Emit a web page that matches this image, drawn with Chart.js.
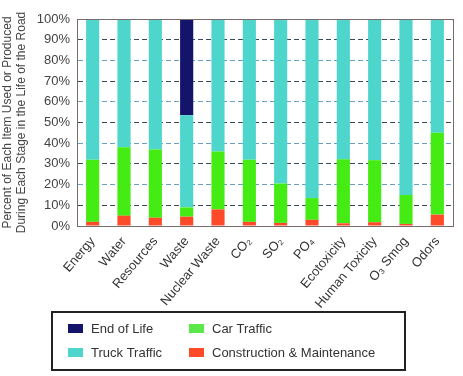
<!DOCTYPE html>
<html>
<head>
<meta charset="utf-8">
<script src="https://cdn.jsdelivr.net/npm/chart.js@4/dist/chart.umd.min.js"></script>
<style>
  body { margin: 0; background: #fff; }
  canvas { display: block; }
</style>
</head>
<body>
<canvas id="roadChart" width="463" height="376"></canvas>
<script>
const categories = ['Energy', 'Water', 'Resources', 'Waste', 'Nuclear Waste', 'CO₂', 'SO₂', 'PO₄', 'Ecotoxicity', 'Human Toxicity', 'O₃ Smog', 'Odors'];
const construction = [2, 5, 4, 4.5, 8, 2, 1.5, 3, 1.3, 1.8, 1, 5.5];
const carTraffic = [30, 33, 33, 4.5, 28, 30, 19, 10.5, 31, 30, 14, 39.5];
const truckTraffic = [68, 62, 63, 44.5, 64, 68, 79.5, 86.5, 67.7, 68.2, 85, 55];
const endOfLife = [0, 0, 0, 46.5, 0, 0, 0, 0, 0, 0, 0, 0];
const yTicks = [0, 10, 20, 30, 40, 50, 60, 70, 80, 90, 100];

const fontFam = '"Liberation Sans", Arial, sans-serif';
const textClr = '#444';

// legend in two columns inside a framed box
const legendItems = [
    { text: 'End of Life', color: '#14146b', col: 0, row: 0 },
    { text: 'Car Traffic', color: '#5be84a', col: 1, row: 0 },
    { text: 'Truck Traffic', color: '#4fd6cc', col: 0, row: 1 },
    { text: 'Construction & Maintenance', color: '#ff4a2a', col: 1, row: 1 }
];

const framePlugin = {
    id: 'frame',
    afterDraw(chart) {
        const ctx = chart.ctx;
        const a = chart.chartArea;
        ctx.save();
        ctx.strokeStyle = '#7a6a6a';
        ctx.lineWidth = 1;
        ctx.strokeRect(a.left + 0.5, a.top + 0.5, a.right - a.left, a.bottom - a.top);

        // legend box
        ctx.strokeStyle = '#222';
        ctx.lineWidth = 2;
        ctx.strokeRect(52, 312, 353, 58);
        ctx.font = '13px ' + fontFam;
        ctx.textBaseline = 'middle';
        legendItems.forEach(function (it) {
            const x = it.col === 0 ? 68 : 189;
            const y = it.row === 0 ? 328 : 352;
            ctx.fillStyle = it.color;
            ctx.fillRect(x, y - 4, 15, 9);
            ctx.fillStyle = '#333';
            ctx.fillText(it.text, x + 23, y + 1);
        });
        ctx.restore();
    }
};

const chartData = {
    labels: categories,
    datasets: [
        { label: 'Construction & Maintenance', data: construction, backgroundColor: '#ff4a2a' },
        { label: 'Car Traffic', data: carTraffic, backgroundColor: '#45ec14' },
        { label: 'Truck Traffic', data: truckTraffic, backgroundColor: '#4fd6cc' },
        { label: 'End of Life', data: endOfLife, backgroundColor: '#14146b' }
    ]
};

new Chart(document.getElementById('roadChart'), {
    type: 'bar',
    data: chartData,
    plugins: [framePlugin],
    options: {
        responsive: false,
        animation: false,
        layout: { padding: { top: 19, right: 10, left: 0, bottom: 0 } },
        datasets: {
            bar: { categoryPercentage: 1, barPercentage: 0.42 }
        },
        scales: {
            x: {
                stacked: true,
                grid: { display: false },
                border: { display: false },
                ticks: {
                    color: '#333',
                    font: { family: fontFam, size: 13 },
                    minRotation: 50,
                    maxRotation: 50,
                    padding: 0
                },
                afterFit(scale) { scale.height = 150; }
            },
            y: {
                stacked: true,
                min: 0,
                max: 100,
                afterBuildTicks(scale) { scale.ticks = yTicks.map(v => ({ value: v })); },
                grid: {
                    color: function (c) { return c.index % 2 ? '#3a4a5a' : '#6aa0c0'; },
                    drawTicks: false
                },
                border: { display: true, color: '#7a6a6a', dash: [5, 3] },
                ticks: {
                    color: textClr,
                    padding: 7,
                    font: { family: fontFam, size: 13 },
                    callback: v => v + '%'
                },
                title: {
                    display: true,
                    text: ['Percent of Each Item Used or Produced', 'During Each Stage in the Life of the Road'],
                    color: textClr,
                    font: { family: fontFam, size: 12 },
                    padding: 0
                },
                afterFit(scale) { scale.width = 77; }
            }
        },
        plugins: {
            legend: { display: false },
            tooltip: { enabled: false }
        }
    }
});
</script>
</body>
</html>
